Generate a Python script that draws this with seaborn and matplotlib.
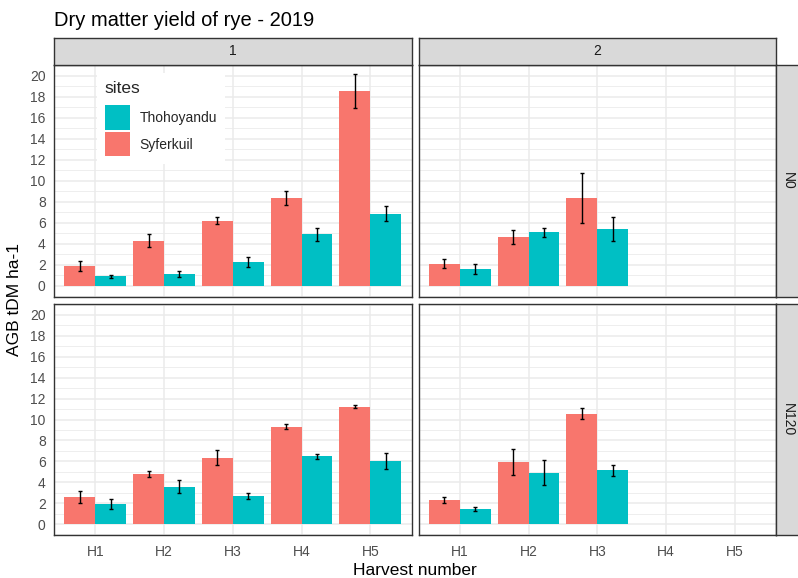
import matplotlib
matplotlib.use("Agg")
import matplotlib.pyplot as plt
from matplotlib.patches import Patch
from matplotlib.ticker import MultipleLocator
import seaborn as sns
import pandas as pd

# ---- data -------------------------------------------------------------
harvests = ["H1", "H2", "H3", "H4", "H5"]
sites = ["Syferkuil", "Thohoyandu"]
seasons = ["1", "2"]
nitrogen = ["N0", "N120"]

# season 1, N0
syf_s1_n0 = [1.90, 4.32, 6.20, 8.33, 18.50]
syf_s1_n0_se = [0.45, 0.58, 0.33, 0.68, 1.60]
tho_s1_n0 = [0.90, 1.14, 2.26, 4.90, 6.87]
tho_s1_n0_se = [0.14, 0.28, 0.50, 0.63, 0.73]
# season 2, N0 (H1-H3 only)
syf_s2_n0 = [2.13, 4.67, 8.33]
syf_s2_n0_se = [0.40, 0.67, 2.37]
tho_s2_n0 = [1.59, 5.09, 5.44]
tho_s2_n0_se = [0.46, 0.45, 1.13]
# season 1, N120
syf_s1_n120 = [2.57, 4.79, 6.35, 9.33, 11.20]
syf_s1_n120_se = [0.55, 0.30, 0.73, 0.23, 0.14]
tho_s1_n120 = [1.94, 3.59, 2.70, 6.48, 6.00]
tho_s1_n120_se = [0.50, 0.62, 0.30, 0.25, 0.75]
# season 2, N120 (H1-H3 only)
syf_s2_n120 = [2.29, 5.94, 10.57]
syf_s2_n120_se = [0.30, 1.24, 0.52]
tho_s2_n120 = [1.40, 4.92, 5.14]
tho_s2_n120_se = [0.19, 1.22, 0.51]

groups = {
    ("1", "N0"): (syf_s1_n0, syf_s1_n0_se, tho_s1_n0, tho_s1_n0_se),
    ("2", "N0"): (syf_s2_n0, syf_s2_n0_se, tho_s2_n0, tho_s2_n0_se),
    ("1", "N120"): (syf_s1_n120, syf_s1_n120_se, tho_s1_n120, tho_s1_n120_se),
    ("2", "N120"): (syf_s2_n120, syf_s2_n120_se, tho_s2_n120, tho_s2_n120_se),
}

rows = []
for (season, n), (sy, sy_se, th, th_se) in groups.items():
    for site, vals, ses in (("Syferkuil", sy, sy_se), ("Thohoyandu", th, th_se)):
        for h, v, e in zip(harvests, vals, ses):
            rows.append(dict(season=season, nitrogen=n, site=site,
                             harvest=h, yld=v, se=e))
df = pd.DataFrame(rows)

palette = {"Syferkuil": "#F8766D", "Thohoyandu": "#00BFC4"}

# ---- layout -----------------------------------------------------------
W, H = 798, 578
sns.set_theme(style="white")
plt.rcParams["font.family"] = ["Liberation Sans", "DejaVu Sans"]
fig = plt.figure(figsize=(W / 100, H / 100), dpi=100)


def fig_rect(x0, y0, x1, y1):
    return [x0 / W, 1 - y1 / H, (x1 - x0) / W, (y1 - y0) / H]


col_x = [(54, 411.5), (418.5, 776)]
row_y = [(64.5, 297), (304, 535)]
strip_top = 37.5
strip_right = 800

grey20 = "#333333"
tick_col = "#4D4D4D"


def style_strip(sax, label, rotation=0):
    sax.set_facecolor("#D9D9D9")
    sax.set_xticks([])
    sax.set_yticks([])
    for sp in sax.spines.values():
        sp.set_color(grey20)
        sp.set_linewidth(1.0)
    sax.text(0.5, 0.5, label, transform=sax.transAxes, ha="center",
             va="center", rotation=rotation, fontsize=10, color="#1A1A1A")


for r, n in enumerate(nitrogen):
    for c, season in enumerate(seasons):
        x0, x1 = col_x[c]
        y0, y1 = row_y[r]
        ax = fig.add_axes(fig_rect(x0, y0, x1, y1))
        sub = df[(df.season == season) & (df.nitrogen == n)]
        sns.barplot(data=sub, x="harvest", y="yld", hue="site",
                    order=harvests, hue_order=sites, palette=palette,
                    width=0.9, errorbar=None, linewidth=0, saturation=1,
                    legend=False, ax=ax, zorder=2)
        for j, site in enumerate(sites):
            s = sub[sub.site == site]
            xs = [harvests.index(h) + (j - 0.5) * 0.45 for h in s.harvest]
            ax.errorbar(xs, s.yld, yerr=s.se, fmt="none", ecolor="black",
                        elinewidth=1.0, capsize=1.6, capthick=1.0, zorder=3)

        ax.set_xlim(-0.6, 4.6)
        ax.set_ylim(-1.05, 21.05)
        ax.set_xlabel("")
        ax.set_ylabel("")
        ax.yaxis.set_major_locator(MultipleLocator(2))
        ax.yaxis.set_minor_locator(MultipleLocator(1))
        ax.set_axisbelow(True)
        ax.grid(which="major", color="#EBEBEB", linewidth=1.1, zorder=0)
        ax.grid(which="minor", axis="y", color="#EBEBEB", linewidth=0.6,
                zorder=0)
        ax.set_facecolor("white")
        for sp in ax.spines.values():
            sp.set_color(grey20)
            sp.set_linewidth(1.0)
        ax.tick_params(which="minor", length=0)
        ax.tick_params(which="major", length=3.5, width=0.9, color=grey20,
                       labelsize=10, labelcolor=tick_col, pad=2.5)
        ax.tick_params(axis="x", pad=4)
        if r == 0:
            ax.tick_params(axis="x", bottom=False, labelbottom=False)
        if c == 1:
            ax.tick_params(axis="y", left=False, labelleft=False)

        # column strip on top row
        if r == 0:
            sax = fig.add_axes(fig_rect(x0, strip_top, x1, y0))
            style_strip(sax, season)
        # row strip on right column
        if c == 1:
            sax = fig.add_axes(fig_rect(x1, y0, strip_right, y1))
            style_strip(sax, n, rotation=270)

# ---- titles -----------------------------------------------------------
fig.text(54 / W, 1 - 26.5 / H, "Dry matter yield of rye - 2019",
         ha="left", va="baseline", fontsize=14.5, color="black")
fig.text(415 / W, 1 - 575 / H, "Harvest number", ha="center",
         va="baseline", fontsize=12.5, color="black")
fig.text(15 / W, 1 - 300 / H, "AGB tDM ha-1", ha="center", va="center",
         rotation=90, fontsize=12.5, color="black")

# ---- legend -----------------------------------------------------------
handles = [Patch(facecolor=palette["Thohoyandu"], edgecolor="none"),
           Patch(facecolor=palette["Syferkuil"], edgecolor="none")]
leg = fig.legend(handles, ["Thohoyandu", "Syferkuil"], title="sites",
                 loc="upper left", bbox_to_anchor=(97 / W, 1 - 73 / H),
                 fontsize=10, title_fontsize=12.5, frameon=True,
                 handlelength=1.8, handleheight=2.3, labelspacing=0.2,
                 handletextpad=0.7, borderpad=0.55, borderaxespad=0,
                 alignment="left", fancybox=False)
leg.get_frame().set_facecolor("white")
leg.get_frame().set_edgecolor("none")
leg.get_frame().set_alpha(1)
# a little more room between the legend title and the keys
leg._legend_box.sep = 7

fig.savefig("out.png", dpi=100)
